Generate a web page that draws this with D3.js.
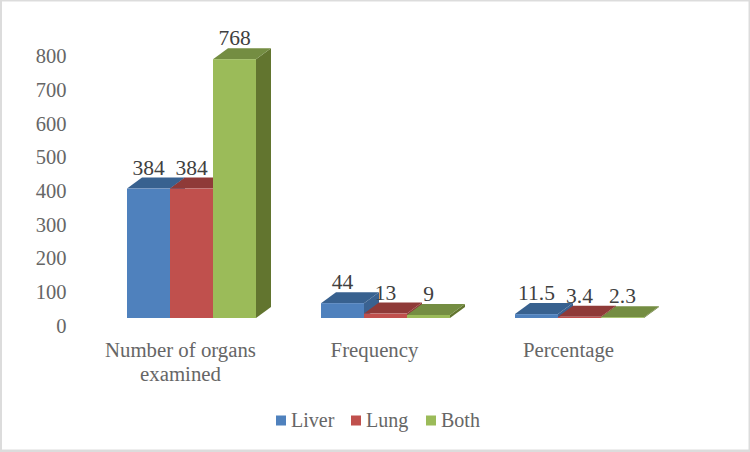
<!DOCTYPE html>
<html>
<head>
<meta charset="utf-8">
<style>
html,body{margin:0;padding:0;background:#dcdcdc;}
svg{display:block;}
text{font-family:"Liberation Serif",serif;}
</style>
<script src="https://cdn.jsdelivr.net/npm/d3@7"></script>
</head>
<body>
<svg id="chart" width="750" height="452"></svg>
<script>
const categories = ["Number of organs examined", "Frequency", "Percentage"];
const seriesNames = ["Liver", "Lung", "Both"];
const liver = [384, 44, 11.5];
const lung = [384, 13, 3.4];
const both = [768, 9, 2.3];
const yTicks = [0, 100, 200, 300, 400, 500, 600, 700, 800];

const values = [liver, lung, both];
const front = ["#4f81bd", "#c0504d", "#9bbb59"];
const topFace = ["#38618f", "#8f3a38", "#748d42"];
const sideFace = ["#3a6291", "#8f3a38", "#62752f"];

const depthX = 15, depthY = 11;
const baseY = 318;

const svg = d3.select("#chart");
svg.append("rect").attr("x", 2).attr("y", 1.5).attr("width", 746.5).attr("height", 448).attr("fill", "#fff");

// Value scale for the front plane of the bars
const y = d3.scaleLinear().domain([0, 800]).range([baseY, baseY - 269.6]);
// Category bands; each band holds three touching bars
const x = d3.scaleBand().domain(categories).range([94.5, 676.5]).paddingInner(0).paddingOuter(0);
const inner = d3.scaleBand().domain(seriesNames).range([0, 129]);
const bandStart = c => x(c) + (x.bandwidth() - inner.range()[1]) / 2;

// Tick labels sit on the floor of the plot, a little below the front plane
const yAxis = d3.axisLeft(y).tickValues(yTicks).tickSize(0).tickPadding(0).tickFormat(d3.format("d"));
const yG = svg.append("g").attr("transform", "translate(66.5,7.8)").call(yAxis);
yG.select(".domain").remove();
yG.selectAll("text").attr("font-size", 20.5).attr("fill", "#666").attr("font-family", "Liberation Serif");

// Bars: drawn left to right so each top face covers the lower part of its neighbour's side
categories.forEach((c, ci) => {
  seriesNames.forEach((s, si) => {
    const x0 = bandStart(c) + inner(s);
    const x1 = x0 + inner.bandwidth();
    const t = y(values[si][ci]);
    const g = svg.append("g");
    g.append("polygon").attr("fill", sideFace[si]).attr("points",
      [[x1, t], [x1 + depthX, t - depthY], [x1 + depthX, baseY - depthY], [x1, baseY]].join(" "));
    g.append("polygon").attr("fill", topFace[si]).attr("points",
      [[x0, t], [x0 + depthX, t - depthY], [x1 + depthX, t - depthY], [x1, t]].join(" "));
    g.append("rect").attr("x", x0).attr("y", t).attr("width", x1 - x0).attr("height", baseY - t).attr("fill", front[si]);
  });
});

// Value labels
categories.forEach((c, ci) => {
  seriesNames.forEach((s, si) => {
    svg.append("text")
      .attr("x", bandStart(c) + inner(s) + inner.bandwidth() / 2)
      .attr("y", y(values[si][ci]) - 14)
      .attr("text-anchor", "middle")
      .attr("font-size", 21.5)
      .attr("fill", "#404040")
      .text(values[si][ci]);
  });
});

// Category labels, wrapped onto two lines where needed
const catLines = { "Number of organs examined": ["Number of organs", "examined"] };
categories.forEach(c => {
  const lines = catLines[c] || [c];
  lines.forEach((line, i) => {
    svg.append("text")
      .attr("x", x(c) + x.bandwidth() / 2 - 11)
      .attr("y", 357 + i * 24)
      .attr("text-anchor", "middle")
      .attr("font-size", 20.8)
      .attr("fill", "#666")
      .text(line);
  });
});

// Legend
const legendX = d3.scalePoint().domain(seriesNames).range([276, 426]);
seriesNames.forEach((s, si) => {
  svg.append("rect").attr("x", legendX(s)).attr("y", 415.5).attr("width", 10).attr("height", 10).attr("fill", front[si]);
  svg.append("text").attr("x", legendX(s) + 15).attr("y", 427)
    .attr("font-size", 20).attr("fill", "#666").text(s);
});
</script>
</body>
</html>
